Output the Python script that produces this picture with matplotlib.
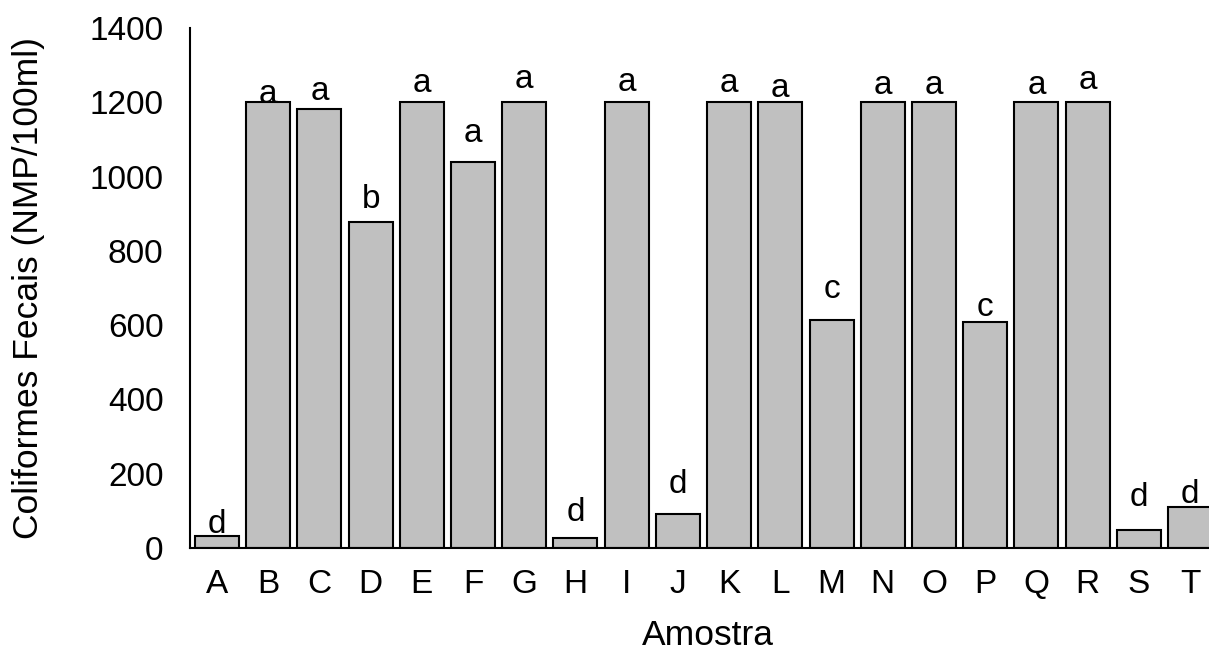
import numpy as np
import matplotlib.pyplot as plt

plt.rcParams['font.family'] = ['Liberation Sans', 'DejaVu Sans']

amostras = ['A', 'B', 'C', 'D', 'E', 'F', 'G', 'H', 'I', 'J',
            'K', 'L', 'M', 'N', 'O', 'P', 'Q', 'R', 'S', 'T']
coliformes = [32, 1200, 1182, 878, 1200, 1039, 1200, 27, 1200, 92,
              1200, 1200, 614, 1200, 1200, 608, 1200, 1200, 48, 110]
letras = ['d', 'a', 'a', 'b', 'a', 'a', 'a', 'd', 'a', 'd',
          'a', 'a', 'c', 'a', 'a', 'c', 'a', 'a', 'd', 'd']
# altura (base do texto) de cada letra
pos_letras = [40, 1198, 1206, 915, 1228, 1093, 1238, 72, 1230, 148,
              1228, 1214, 673, 1222, 1222, 625, 1222, 1236, 113, 121]

fs_tick = 24
fs_label = 25.5

fig = plt.figure(figsize=(12.09, 6.53), dpi=100)
ax = fig.add_axes([0.157, 0.161, 0.843, 0.796])

x = np.arange(len(amostras))
ax.bar(x, coliformes, width=0.86, color='#c0c0c0', edgecolor='black', linewidth=1.5)

for xi, txt, yi in zip(x, letras, pos_letras):
    ax.text(xi, yi, txt, ha='center', va='baseline', fontsize=fs_tick)

ax.set_xlim(-0.53, 19.37)
ax.set_ylim(0, 1400)
ax.set_yticks(np.arange(0, 1401, 200))
ax.set_xticks(x)
ax.set_xticklabels(amostras)
ax.tick_params(axis='both', length=0, labelsize=fs_tick)
ax.tick_params(axis='y', pad=19)
ax.tick_params(axis='x', pad=15)

for s in ['top', 'right']:
    ax.spines[s].set_visible(False)
ax.spines['left'].set_linewidth(1.5)
ax.spines['bottom'].set_linewidth(1.5)

ax.set_ylabel('Coliformes Fecais (NMP/100ml)', fontsize=fs_label)
ax.yaxis.set_label_coords(-0.142, 0.5)
ax.set_xlabel('Amostra', fontsize=fs_label)
ax.xaxis.set_label_coords(0.508, -0.136)

plt.savefig('out.png', dpi=100)
